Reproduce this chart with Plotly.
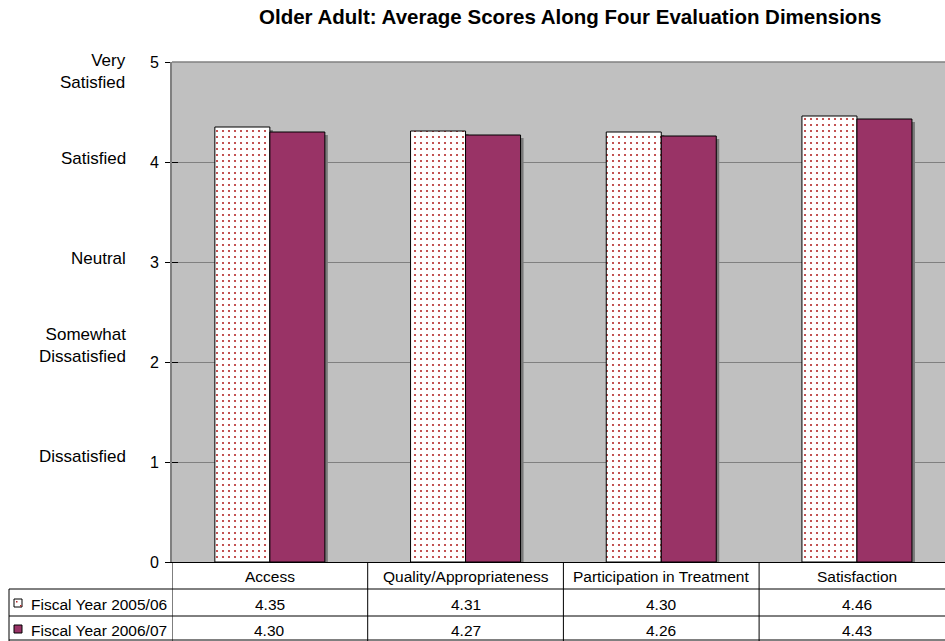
import plotly.graph_objects as go

# ---- data ----
categories = ["Access", "Quality/Appropriateness", "Participation in Treatment", "Satisfaction"]
fy_2005_06 = [4.35, 4.31, 4.30, 4.46]
fy_2006_07 = [4.30, 4.27, 4.26, 4.43]
series_names = ["Fiscal Year 2005/06", "Fiscal Year 2006/07"]
scale_labels = ["Very<br>Satisfied", "Satisfied", "Neutral", "Somewhat<br>Dissatisfied", "Dissatisfied"]
scale_values = [5, 4, 3, 2, 1]
title_text = "Older Adult: Average Scores Along Four Evaluation Dimensions"

# ---- layout geometry (pixels) ----
W, H = 945, 641
L, T, B = 172, 62, 79
plot_w = W - L
plot_h = H - T - B
y0_px = T + plot_h  # pixel row of the value axis zero


def px_x(px):
    return (px - L) / plot_w


def px_y(py):
    return (y0_px - py) / plot_h


FONT = "Liberation Sans, Arial, sans-serif"
PURPLE = "#993366"
GRAY = "#C0C0C0"
DARK = "#808080"

cat_w = 195.7                      # pixels per category
bar_w = 55 / cat_w                 # bar width in category units
shadow_dx = 3 / cat_w              # drop shadow shift (right)
shadow_dy = 3 / 100                # drop shadow shift (down), 100 px per unit

fig = go.Figure()

# drop shadows, drawn first so the bars sit on top
for vals, off in [(fy_2005_06, -bar_w), (fy_2006_07, 0.0)]:
    fig.add_trace(go.Bar(
        x=categories, y=[v - shadow_dy for v in vals],
        offset=off + shadow_dx, width=bar_w,
        marker=dict(color="#7A7A7A", line=dict(width=0)),
        hoverinfo="skip", showlegend=False,
    ))

fig.add_trace(go.Bar(
    x=categories, y=fy_2005_06, name=series_names[0],
    offset=-bar_w, width=bar_w,
    marker=dict(color="white",
                pattern=dict(shape=".", fgcolor="#B42828", bgcolor="white",
                             size=6, solidity=0.1, fillmode="replace"),
                line=dict(color="black", width=1)),
    showlegend=False,
))
fig.add_trace(go.Bar(
    x=categories, y=fy_2006_07, name=series_names[1],
    offset=0.0, width=bar_w,
    marker=dict(color=PURPLE, line=dict(color="black", width=1)),
    showlegend=False,
))
# empty trace that carries the inward tick marks axis
fig.add_trace(go.Scatter(x=[], y=[], yaxis="y2", showlegend=False))

right_edge = 3.5 - (L + 4 * cat_w - W) / cat_w

fig.update_layout(
    width=W, height=H,
    margin=dict(l=L, r=0, t=T, b=B),
    paper_bgcolor="white",
    plot_bgcolor=GRAY,
    barmode="overlay",
    font=dict(family=FONT, size=16, color="black"),
    xaxis=dict(
        type="category", range=[-0.5, right_edge],
        showticklabels=False, ticks="", showgrid=False,
        showline=True, linecolor="black", linewidth=1,
        zeroline=False, fixedrange=True,
    ),
    yaxis=dict(
        range=[0, 5], dtick=1, tick0=0,
        ticks="outside", ticklen=5, tickcolor="black", tickwidth=1,
        ticklabelstandoff=3,
        tickfont=dict(family=FONT, size=16),
        showline=True, linecolor=DARK, linewidth=2,
        showgrid=True, gridcolor=DARK, gridwidth=1,
        zeroline=False, fixedrange=True,
    ),
    yaxis2=dict(
        overlaying="y", side="left", range=[0, 5], dtick=1, tick0=0,
        ticks="inside", ticklen=6, tickcolor="black", tickwidth=1,
        showticklabels=False, showgrid=False, showline=False,
        zeroline=False, fixedrange=True,
    ),
    showlegend=False,
)

annotations = []
shapes = []

# title
annotations.append(dict(
    text="<b>" + title_text + "</b>", xref="paper", yref="paper",
    x=px_x(569.5), y=px_y(17), xanchor="center", yanchor="middle",
    showarrow=False, font=dict(family=FONT, size=20.5, color="black"),
))

# descriptive scale labels beside the numeric ticks (pixel shift from tick)
label_shift = {5: -9.5, 4: 4, 3: 4, 2: 16.5, 1: 6}
for lab, v in zip(scale_labels, scale_values):
    annotations.append(dict(
        text=lab, xref="paper", yref="y", x=px_x(128), y=v,
        yshift=label_shift[v],
        xanchor="right", yanchor="middle", align="right",
        showarrow=False, font=dict(family=FONT, size=17, color="black"),
    ))

# top border of the plot area
shapes.append(dict(type="line", xref="paper", yref="paper",
                   x0=0, x1=px_x(W + 5), y0=1, y1=1,
                   line=dict(color=DARK, width=1.5)))

# ---- data table beneath the chart ----
row_lines = [589, 616, 640]
for py in row_lines:
    shapes.append(dict(type="line", xref="paper", yref="paper",
                       x0=px_x(9), x1=px_x(W + 5), y0=px_y(py), y1=px_y(py),
                       line=dict(color="black", width=1)))
# left edge of the series label column
shapes.append(dict(type="line", xref="paper", yref="paper",
                   x0=px_x(9), x1=px_x(9), y0=px_y(589), y1=px_y(641),
                   line=dict(color="black", width=1)))
# column separators at category boundaries
for i in range(len(categories)):
    shapes.append(dict(type="line", xref="x", yref="paper",
                       x0=i - 0.5, x1=i - 0.5, y0=0, y1=px_y(641),
                       line=dict(color="black", width=1)))

header_py, row1_py, row2_py = 576.5, 604, 630
for i, cat in enumerate(categories):
    annotations.append(dict(text=cat, xref="x", yref="paper", x=i, y=px_y(header_py),
                            xanchor="center", yanchor="middle", showarrow=False,
                            font=dict(family=FONT, size=15.5)))
    annotations.append(dict(text=f"{fy_2005_06[i]:.2f}", xref="x", yref="paper", x=i,
                            y=px_y(row1_py), xanchor="center", yanchor="middle",
                            showarrow=False, font=dict(family=FONT, size=15.5)))
    annotations.append(dict(text=f"{fy_2006_07[i]:.2f}", xref="x", yref="paper", x=i,
                            y=px_y(row2_py), xanchor="center", yanchor="middle",
                            showarrow=False, font=dict(family=FONT, size=15.5)))

# legend keys inside the table
for name, py, fill in [(series_names[0], row1_py, "white"), (series_names[1], row2_py, PURPLE)]:
    shapes.append(dict(type="rect", xref="paper", yref="paper",
                       x0=px_x(14), x1=px_x(22), y0=px_y(py - 5), y1=px_y(py + 3),
                       fillcolor=fill, line=dict(color="black", width=1)))
    annotations.append(dict(text=name, xref="paper", yref="paper", x=px_x(29), y=px_y(py),
                            xanchor="left", yanchor="middle", showarrow=False,
                            font=dict(family=FONT, size=15.5)))
# red specks in the first legend key
for dx, dy in [(16, -3), (20, 1)]:
    shapes.append(dict(type="rect", xref="paper", yref="paper",
                       x0=px_x(dx), x1=px_x(dx + 1.5),
                       y0=px_y(row1_py + dy), y1=px_y(row1_py + dy + 1.5),
                       fillcolor="#B42828", line=dict(width=0)))

fig.update_layout(annotations=annotations, shapes=shapes)

fig.write_html("out.html")
